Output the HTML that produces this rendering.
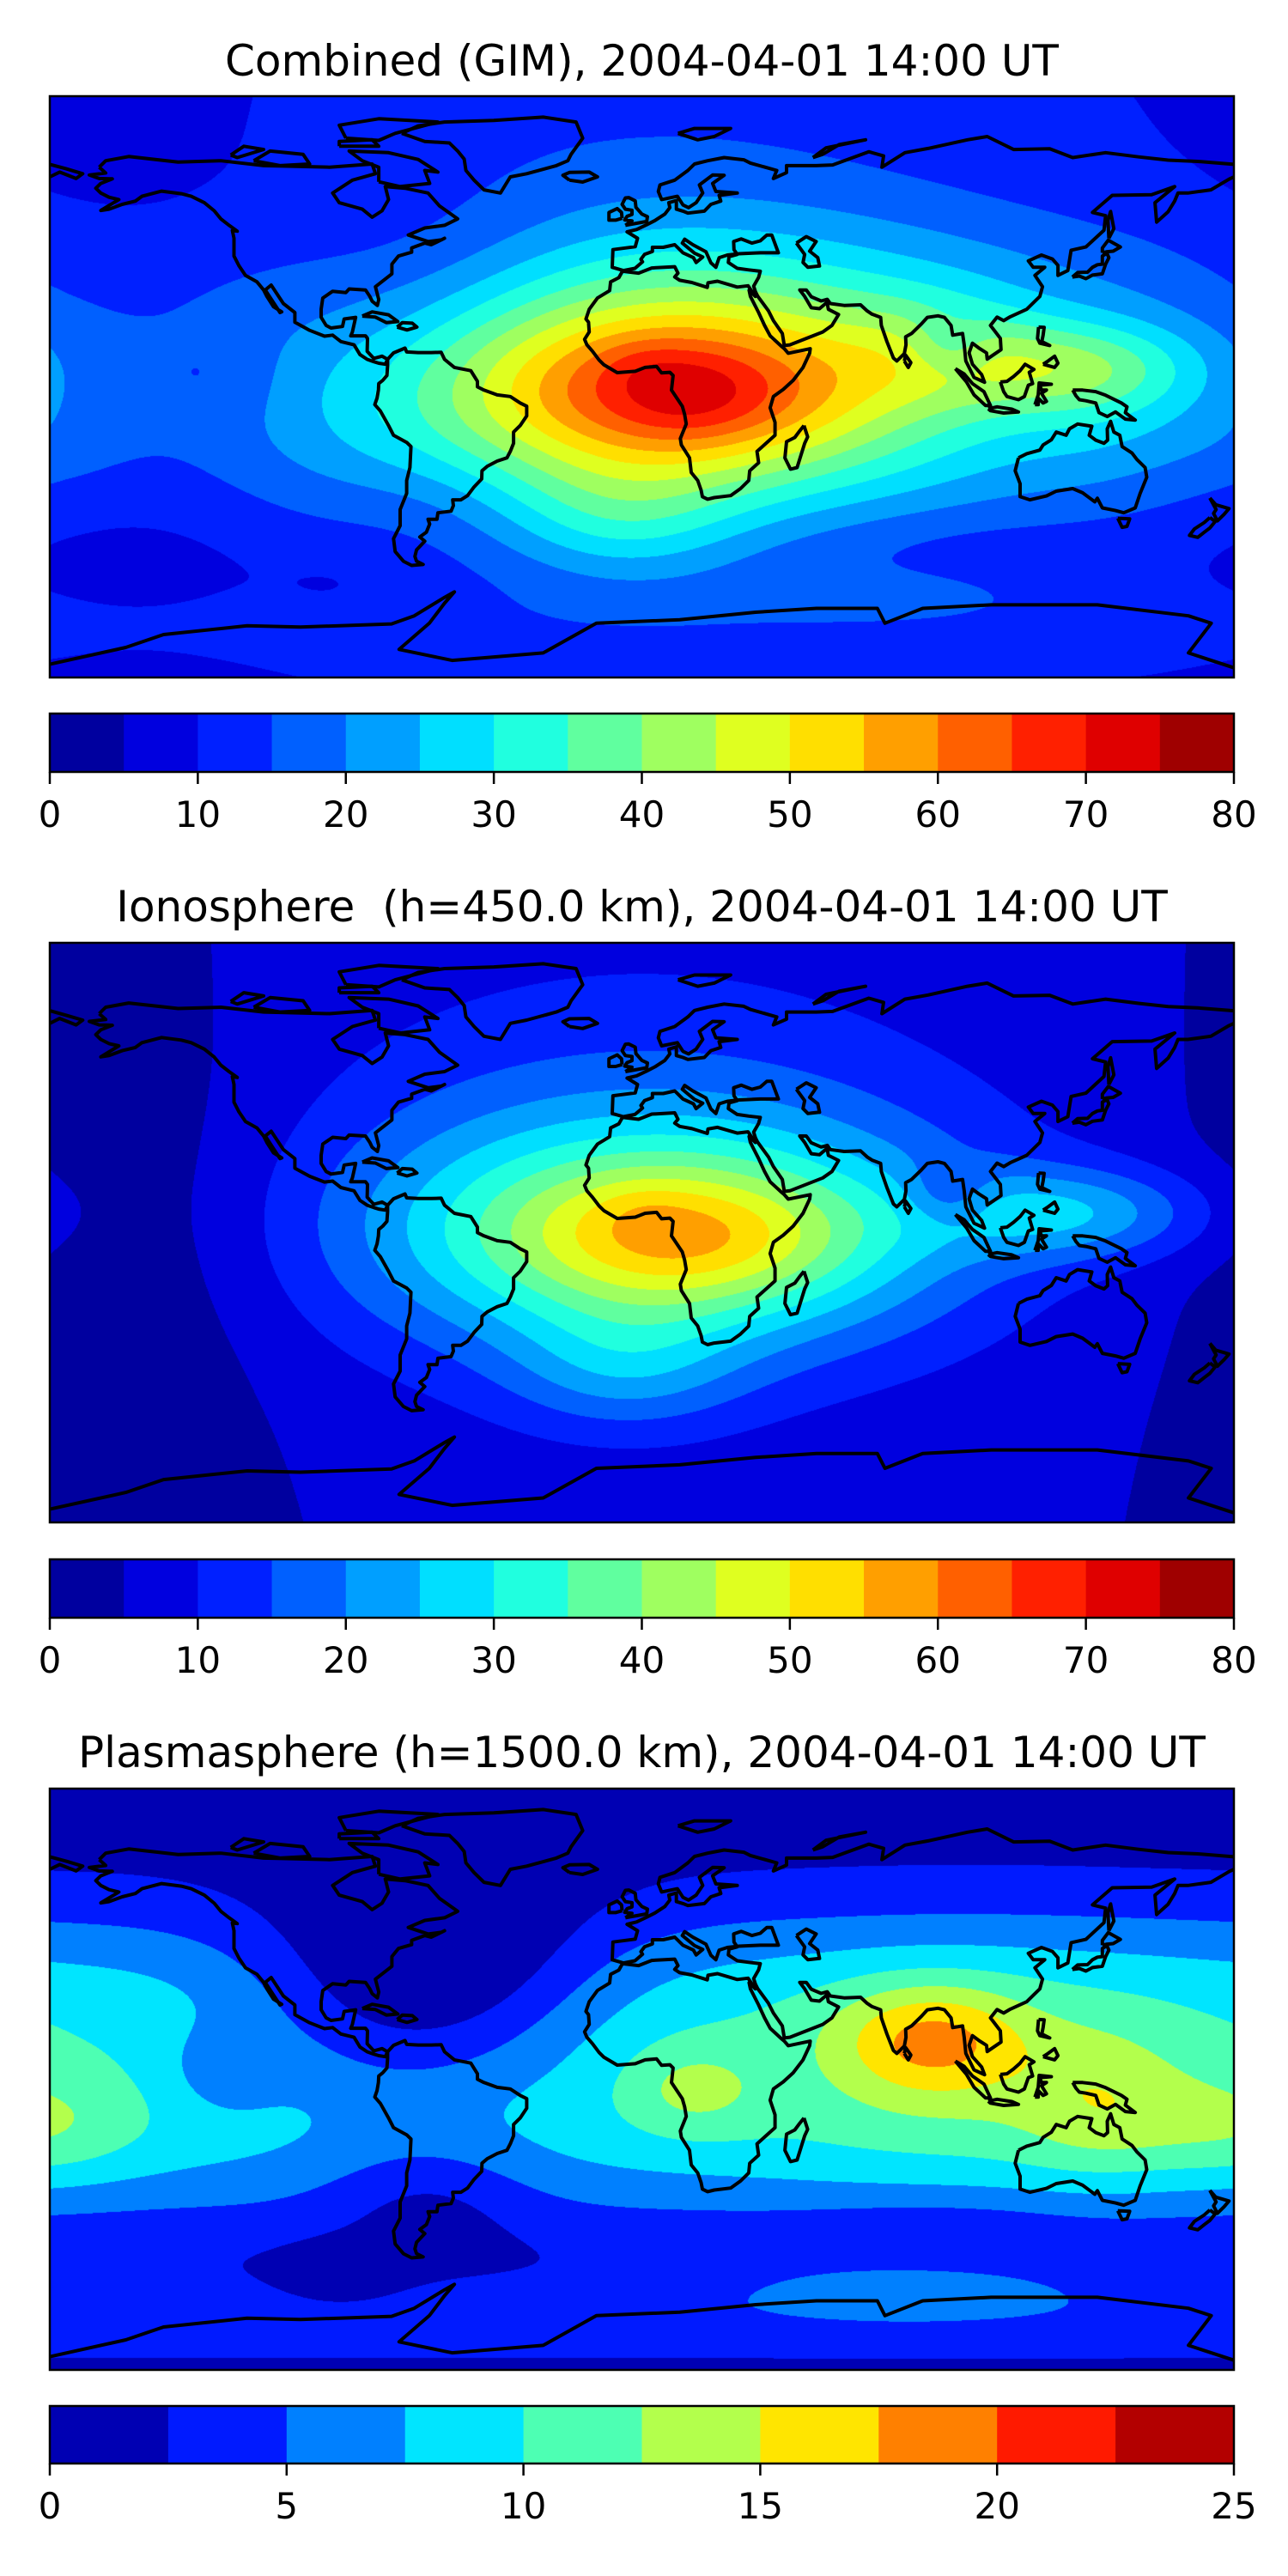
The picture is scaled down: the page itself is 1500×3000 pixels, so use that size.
<!DOCTYPE html>
<html><head><meta charset="utf-8">
<style>
html,body{margin:0;padding:0;background:#fff;}
#root{position:relative;width:1500px;height:3000px;overflow:hidden;background:#fff;}
canvas{position:absolute;}
svg{position:absolute;left:0;top:0;}
text{font-family:"DejaVu Sans","Liberation Sans",sans-serif;fill:#000;white-space:pre;}
</style></head>
<body>
<div id="root">
<canvas id="c1" width="1379" height="677" style="left:58px;top:112px"></canvas>
<canvas id="c2" width="1379" height="675" style="left:58px;top:1098px"></canvas>
<canvas id="c3" width="1379" height="677" style="left:58px;top:2083px"></canvas>
<svg id="ov" width="1500" height="3000"></svg>
</div>
<script>
// ---- data ----
const ionoLevels = [0,5,10,15,20,25,30,35,40,45,50,55,60,65,70,75,80];
const ionoTicks = [0,10,20,30,40,50,60,70,80];
const plasmaLevels = [0,2.5,5,7.5,10,12.5,15,17.5,20,22.5,25];
const plasmaTicks = [0,5,10,15,20,25];
// blobs: [lon, lat, amplitude, sigmaLon, sigmaLat]
const ionoBase = 5;
const ionoBlobs = [
  [0, 20, 10, 80, 50],
  [5, 0, 30, 60, 25],
  [15, -2, 14, 35, 14],
  [0, 8, 2, 10, 6],
  [130, 6, 16, 30, 10],
  [93, 12, -8, 9, 7],
  [-5, -42, 10, 25, 14],
  [-150, 0, -4.5, 32, 55]
];
const combinedOffset = 3;
const plasmaBase = 1.5;
const plasmaBandAmp = 8, plasmaBandLat = 3, plasmaBandSigmaN = 38, plasmaBandSigmaS = 36;
const plasmaBlobs = [
  [88, 12, 7, 20, 12],
  [15, -3, 3.5, 15, 10],
  [140, -8, 3.5, 18, 16],
  [100, 0, 2.5, 50, 30],
  [180, -15, 3, 20, 12],
  [-75, 20, -4, 35, 25],
  [-60, 35, -5, 35, 20],
  [-65, -35, -3, 22, 13],
  [-128, 3, -2.5, 12, 10],
  [90, -47, -1.5, 30, 8],
  [-92, -62, -2, 14, 7],
  [80, -64, 3, 40, 7]
];
const coast = {
 northAmerica:[[-165,68],[-163,70],[-156,71.3],[-141,69.6],[-128,70],[-115,68.5],[-95,68],[-82,69],[-81,66],[-88,64],[-94,60],[-92,57],[-85,55],[-82,52.5],[-79,54.5],[-77,58],[-78,62],[-72,61.5],[-65,60],[-61.5,56],[-56,52],[-60,50],[-66,49.2],[-71,47],[-65,45],[-61,45.5],[-60,46],[-64,44],[-66,44.5],[-70,43],[-70,41.7],[-74,40.5],[-76,38],[-76,35],[-81,31],[-80,27],[-80.4,25.2],[-82,26.5],[-82.7,28],[-84,30],[-89,30.3],[-90,29.2],[-94,29.6],[-97,27.5],[-97.5,24],[-97.5,21.5],[-96,19],[-94.5,18.2],[-91,18.7],[-90.5,21],[-87,21.5],[-88,17],[-88.5,15.8],[-84,15.8],[-83.4,15],[-83.5,11],[-81.5,8.8],[-79,9.5],[-77.3,8.5],[-78,7],[-80,7.3],[-81.5,7.8],[-83.5,8.5],[-85.7,10],[-87.5,13],[-91.5,14],[-94,16],[-96.5,15.7],[-101,17.5],[-105.5,20],[-105.5,23],[-109,25.8],[-112.7,31.5],[-114.5,30],[-110,23],[-109.5,23.2],[-112,24.8],[-114,28],[-115,30],[-117,32.5],[-120.5,34.5],[-122.5,37.5],[-124,40.5],[-124,46],[-124.5,48.4],[-123,48.2],[-125.5,50],[-128,52],[-130,54.5],[-133,57],[-137,59],[-140,59.8],[-146,60.6],[-152,59],[-154,57.5],[-158,56.5],[-162,55],[-164.5,54.6],[-159,58],[-162,58.7],[-164.5,60],[-166,61.5],[-164.5,63],[-161,64.4],[-165,64.5],[-168,65.6],[-163,66.2],[-165,68]],
 southAmerica:[[-77.3,8.5],[-75.5,10.5],[-72,12],[-71.5,10.8],[-68,10.6],[-64,10.6],[-61,10.7],[-60,8.5],[-57,6],[-52,5],[-50,1.7],[-50,0],[-48,-1],[-44,-2.5],[-40,-3],[-37,-5],[-35,-6],[-35,-9],[-37,-12],[-39,-14],[-39,-17.5],[-40,-20],[-41,-22],[-44,-23],[-47,-24.6],[-48.6,-26],[-48.7,-28.5],[-51,-31],[-53,-33.7],[-55,-35],[-57.5,-35],[-57.3,-36.8],[-58,-38.5],[-62,-39],[-62.3,-41],[-65,-41],[-64.5,-42.5],[-65.5,-45],[-67.5,-46.5],[-66,-47.8],[-68.5,-50.5],[-69,-52.5],[-68.5,-54],[-66.5,-55],[-70,-55.3],[-72.5,-54],[-75,-51],[-75.5,-47],[-73.5,-43],[-73.5,-38],[-71.5,-33],[-71.5,-29],[-70.5,-25],[-70.2,-18.5],[-71.5,-17.2],[-75.5,-15],[-77,-12],[-79.5,-7.5],[-81.2,-5.5],[-80.5,-3.5],[-80.1,-1],[-80,1],[-78.8,2],[-77.5,3.5],[-77.3,6.5],[-77.3,8.5]],
 africa:[[-5.9,35.8],[-1,35.2],[3,36.8],[10,37.2],[11,35.2],[10,34],[11.5,33],[15.2,32.3],[19.9,30.8],[20.1,32.2],[23,32.7],[29,30.9],[32.3,31.3],[34.5,28],[32.6,29.9],[33,28],[35.5,23],[37.3,19],[39,15.8],[42.5,12.5],[43.3,11.8],[44.5,10.4],[51.2,11.8],[51,10.4],[49,6],[46,2],[43,-0.8],[40,-3],[39,-6.5],[40.5,-11],[40.5,-15],[35,-20],[35.5,-23.5],[32.8,-26],[32.5,-29],[30,-31.5],[27,-33.7],[22,-34.3],[20,-34.8],[18.4,-34],[18,-32],[17,-29],[15,-26.5],[14.5,-22],[12,-18],[11.7,-16],[13.5,-11.5],[13,-8.5],[12.3,-6],[9,-1],[9.5,3.5],[8.5,4.5],[6,4.3],[4.5,6.3],[1,6],[-2,4.8],[-7.5,4.4],[-11.5,6.8],[-13,8.3],[-15,11],[-16.7,13],[-17.4,14.7],[-16,17],[-16.2,20],[-17,21],[-16,24],[-13.5,27.5],[-9.8,29.8],[-9.5,32.5],[-7,33.8],[-5.9,35.8]],
 madagascar:[[49.3,-12],[50.4,-15.5],[49.5,-17.5],[47.2,-25],[45.2,-25.5],[43.5,-22],[44,-17],[46.5,-15.7],[48,-13.6],[49.3,-12]],
 eurasia:[[-5.6,36],[-9,37],[-8.8,42.5],[-2,43.4],[-1.3,46],[-4.5,48],[-1.6,48.7],[1.5,50.2],[4,51.5],[7,53.5],[8.5,55.5],[8.2,57],[10.5,57.7],[10.5,55],[12.5,54.4],[14,53.8],[19,54.4],[21,56.5],[24,57.5],[23.5,59.3],[29,60],[22.5,60.5],[21.5,63],[25,65.5],[21.5,65.6],[17.5,62.5],[18.5,60],[16.5,57],[14.2,55.5],[12.5,56.3],[10.8,59],[6,58],[5,60.5],[5.5,62.5],[10,64],[14,67],[16,69],[20,70],[25,71],[31,70.3],[33,69.3],[41,67],[40,64.5],[44,66.3],[44,68.5],[53,68.5],[58,68.7],[69,72.8],[73.5,71.5],[73,68],[80,72.5],[87,73.8],[99,76.5],[105,77.5],[113,73.5],[124,73.7],[131,71],[141,72.5],[151,71.2],[160,70.2],[169,69.8],[180,68.9]],
 eurasiaSouth:[[180,65],[178.5,64.3],[173,61],[166,60],[163,60],[162,57.5],[160,54.2],[156.5,51],[156,57],[162,62],[155,59.5],[143,59.3],[137,54],[141,53],[140.5,48.5],[135,43.3],[130.5,42.3],[129.5,36],[126.5,34.5],[126.5,37.6],[124.8,39.6],[121.5,40.8],[117.5,39],[119,37],[122.5,37],[119.5,34.5],[121.8,31],[121,28],[117,24],[112,21.7],[110,20.5],[108,21.6],[106,19],[109,15],[109.2,11.5],[105,8.6],[104.8,10.5],[102.5,12],[100.5,13.5],[99.5,10.5],[100.5,7],[103.3,3.8],[104.2,1.4],[101,2.9],[98.5,8],[98,13],[97.5,16.5],[94.5,16],[94,19],[92,21.5],[90,22],[86.8,21.5],[85,19.5],[82,16.5],[80.2,15.5],[80.3,13],[79.8,10.3],[77.5,8],[76.5,8.9],[74.5,14],[72.8,19],[72.6,21.5],[70,22.5],[68.5,23.5],[66.5,25.4],[61.5,25.2],[57.3,25.8],[56.4,27.1],[54.5,26.6],[51.5,27.9],[50,30],[48,30],[49.5,28],[51.5,24.5],[54,24.2],[56.3,26.2],[56.7,24],[59.8,22.4],[57.8,19],[55,17],[52,15.8],[45,13],[43.3,12.8],[42.7,16.5],[40,20.5],[38.5,23.5],[35.2,28.1],[34.5,29.5],[34,31.2],[35.5,33.9],[36,35.8],[32.5,36.2],[29,36.7],[26.3,38.5],[26.5,40.3],[29,41],[28,42.5],[27.9,45],[30.2,45.8],[33.5,44.5],[36,45.2],[38,47],[39.5,47],[41.5,41.5],[36,41.5],[29.5,41.2],[26,40.8],[23.5,40],[22.5,37],[21,38.4],[19.5,41.8],[15.5,44],[13,45.7],[12.3,44.5],[16,41.4],[18.5,40.2],[16.5,38.5],[15.7,40],[12.5,41.5],[10,44],[6.5,43.2],[3.2,43.2],[3.2,41.9],[0.8,41],[-0.3,39.5],[0.2,38.7],[-2.1,36.7],[-5.6,36]],
 chukotka:[[-180,65],[-177,66.5],[-172,64.5],[-170,66],[-175,67.5],[-180,68.9]],
 caspian:[[47,44.5],[50,46.5],[53,45],[51,42],[53.5,40],[54,37.4],[50.5,37],[49,38.5],[49.5,41],[47,44.5]],
 greenland:[[-73,78.5],[-68,80.8],[-60,82],[-45,82.5],[-30,83.5],[-20,82],[-18,77],[-21.5,72],[-22.5,70],[-26,68.5],[-35,66],[-40,65],[-43,60],[-48,61],[-51,64],[-53.5,67],[-54,70.5],[-56,73],[-58.5,75.5],[-66,76],[-73,78.5]],
 australia:[[114.5,-22],[113.5,-26],[115,-30],[115,-34],[118,-35],[123,-33.8],[126,-32.3],[131,-31.5],[134,-32.8],[137.7,-35.6],[138.5,-34.5],[140,-37.5],[144,-38.3],[146.5,-39],[150,-37.5],[151.5,-33],[153.5,-28],[153,-25],[150.5,-22.5],[149,-20.5],[146,-18.5],[145.3,-15],[143.5,-14],[142.5,-10.7],[141.5,-13],[141.6,-16.5],[140.5,-17.5],[138,-16.5],[136,-15],[136.8,-12.2],[132.5,-11.5],[130,-13],[129,-15],[126,-14],[124.5,-16.4],[122,-18],[121,-19.6],[117,-20.7],[114.5,-22]],
 antarctica:[[-180,-85.9],[-156.9,-80.7],[-145.4,-76.7],[-120,-74],[-103.8,-74.4],[-76.1,-73.4],[-69.2,-70.9],[-60,-65.2],[-57,-63.5],[-60,-67],[-64.6,-73.2],[-73.8,-81.3],[-57.7,-84.7],[-30,-82.4],[-13.8,-73.2],[11.5,-72.1],[34.6,-69.8],[53.1,-68.6],[71.6,-68.6],[73.9,-73.2],[85.4,-68.6],[106.2,-67.5],[138.5,-67.5],[166.2,-70.9],[173.1,-73.2],[166.2,-82.4],[180,-87]],
 uk:[[-5,50],[1.5,51.2],[1.7,52.7],[0,53.5],[-1.8,55.6],[-2,57.6],[-4,58.6],[-5,58.5],[-6,56.5],[-5,55],[-3,54.7],[-3,53.4],[-4.5,52.8],[-5.2,51.7],[-3,51.4],[-5,50]],
 ireland:[[-6,52.2],[-6.2,54],[-7.5,55.2],[-10,54],[-10,51.6],[-8,51.6],[-6,52.2]],
 iceland:[[-22,64],[-24,65.5],[-22,66.4],[-16,66.5],[-13.5,65],[-18,63.4],[-22,64]],
 honshu:[[130.9,34],[133,34.3],[135,33.5],[137,34.6],[140,35],[141,38],[142,40],[141.4,41.4],[140,40.5],[140,38],[138.5,37.8],[137,37],[135.5,35.5],[132.5,35.4],[130.9,34]],
 hokkaido:[[140,41.5],[141.2,41.8],[143.3,42],[145.5,43.3],[141.8,45.4],[140,43],[140,41.5]],
 sumatra:[[95.3,5.6],[98,4],[100.5,1],[104,-1.5],[106,-5.8],[104.5,-5.8],[101,-2.5],[98.7,1.5],[95.3,5.6]],
 java:[[105.3,-6.8],[108,-6.2],[112.5,-6.9],[114.5,-7.8],[110,-8.1],[106,-7.4],[105.3,-6.8]],
 borneo:[[109,1.5],[110,-1.5],[111,-3],[114.5,-4],[116.3,-3],[117.5,0.5],[118.8,1],[117.8,4.5],[119.2,5.4],[116.5,7],[115,5],[113,3.2],[111,1.7],[109,1.5]],
 sulawesi:[[119.5,-5.5],[120.5,-2.5],[120.8,1.2],[124.5,0.8],[121,0.5],[121.5,-1],[123,-1],[121.5,-2],[123,-4.5],[122,-5],[120.5,-3.5],[120.5,-5.5],[119.5,-5.5]],
 newGuinea:[[131,-1],[134,-1],[138,-1.5],[141,-2.6],[145.8,-5],[147.5,-6.2],[147,-8],[150,-10.3],[147,-10],[144,-7.8],[141.5,-9.2],[139,-8],[138,-5],[135,-4.3],[133,-4],[132,-2.8],[131,-1]],
 luzon:[[120.6,18.5],[122.3,18.4],[122,16],[121.6,14],[124,12.8],[121,13.5],[120.3,15],[120.6,18.5]],
 mindanao:[[122,7],[125.5,6],[126.5,7.3],[125.5,9.5],[123.5,8],[122,7]],
 nzNorth:[[172.7,-34.4],[174.5,-36.5],[178.5,-37.7],[177,-39.5],[175,-41.5],[173.8,-39.2],[174.6,-38],[172.7,-34.4]],
 nzSouth:[[172.7,-40.5],[174.3,-41.7],[172.7,-43.7],[171,-45],[169,-46.6],[166.5,-46],[168,-44],[171,-42],[172.7,-40.5]],
 cuba:[[-85,21.9],[-82,23.2],[-77,22.3],[-74.2,20.2],[-77.7,19.9],[-81,21.6],[-85,21.9]],
 hispaniola:[[-74.4,18.5],[-72.8,19.9],[-69.8,19.7],[-68.4,18.5],[-71.4,17.6],[-74.4,18.5]],
 sriLanka:[[79.8,8],[80.2,9.8],[81.8,7.5],[81,6],[79.8,8]],
 svalbard:[[11,78.5],[16,80],[27,80],[22,77.5],[17,76.5],[11,78.5]],
 novayaZemlya:[[52,71],[56,74],[68,76.5],[60,75],[55,72],[52,71]],
 baffin:[[-80,63.5],[-73.5,62],[-64.5,63],[-66,67],[-62,66.5],[-68,70.4],[-77,72.5],[-89,73],[-85,70],[-80,68],[-80,63.5]],
 victoria:[[-118,70],[-113,73],[-103,72],[-101,69],[-110,68.5],[-118,70]],
 ellesmere:[[-90,77],[-80,76.3],[-75,78.5],[-62,82],[-80,83],[-92,81],[-90,77]],
 banks:[[-125,71.8],[-121,74.5],[-115,73.5],[-123,71],[-125,71.8]],
 devon:[[-92,74.5],[-80,74.5],[-82,76.5],[-92,76],[-92,74.5]],
 sakhalin:[[142,46],[143.5,49],[142.5,54.3],[141.7,51.5],[142,46]],
 tasmania:[[144.7,-40.7],[148.3,-40.9],[147.5,-43.2],[146,-43.5],[144.7,-40.7]]
};

// ---- helpers ----
function jet(t){
  const c=v=>Math.max(0,Math.min(1,v));
  const r=c(1.5-Math.abs(4*t-3)), g=c(1.5-Math.abs(4*t-2)), b=c(1.5-Math.abs(4*t-1));
  return [Math.round(r*255),Math.round(g*255),Math.round(b*255)];
}
function levelColors(levels){
  const n=levels.length-1, out=[];
  for(let i=0;i<n;i++) out.push(jet((i+0.5)/n));
  return out;
}
function blobSum(blobs,lon,lat){
  let s=0;
  for(const b of blobs){
    let d=lon-b[0]; d=((d+540)%360)-180;
    const e=(d/b[3])**2+((lat-b[1])/b[4])**2;
    s+=b[2]*Math.exp(-0.5*e);
  }
  return s;
}
function iono(lon,lat){ return ionoBase+blobSum(ionoBlobs,lon,lat); }
function plasma(lon,lat){
  const dl=lat-plasmaBandLat, sg=dl>=0?plasmaBandSigmaN:plasmaBandSigmaS;
  return plasmaBase+plasmaBandAmp*Math.exp(-0.5*Math.pow(Math.abs(dl)/sg,3))
    +2.5*Math.exp(-0.5*((lat+74)/9)**2)+blobSum(plasmaBlobs,lon,lat);
}
function combined(lon,lat){ return combinedOffset+iono(lon,lat)+plasma(lon,lat); }

function drawField(id,fn,levels){
  const cv=document.getElementById(id), ctx=cv.getContext('2d');
  const W=cv.width,H=cv.height, img=ctx.createImageData(W,H), cols=levelColors(levels);
  const n=cols.length, lo=levels[0], step=levels[1]-levels[0];
  for(let y=0;y<H;y++){
    const lat=90-(y+0.5)/H*180;
    for(let x=0;x<W;x++){
      const lon=-180+(x+0.5)/W*360;
      let k=Math.floor((fn(lon,lat)-lo)/step); if(k<0)k=0; if(k>n-1)k=n-1;
      const c=cols[k], p=(y*W+x)*4;
      img.data[p]=c[0];img.data[p+1]=c[1];img.data[p+2]=c[2];img.data[p+3]=255;
    }
  }
  ctx.putImageData(img,0,0);
}
drawField('c1',combined,ionoLevels);
drawField('c2',iono,ionoLevels);
drawField('c3',plasma,plasmaLevels);

// ---- overlay ----
const NS='http://www.w3.org/2000/svg', ov=document.getElementById('ov');
function el(tag,attrs,parent){const e=document.createElementNS(NS,tag);for(const k in attrs)e.setAttribute(k,attrs[k]);(parent||ov).appendChild(e);return e;}
const MX=58, MW=1379;
const panels=[
 {title:'Combined (GIM), 2004-04-01 14:00 UT', name:'combined', ty:88, my:112, mh:677, cy:831, ch:68, levels:ionoLevels, ticks:ionoTicks},
 {title:'Ionosphere  (h=450.0 km), 2004-04-01 14:00 UT', name:'ionosphere', ty:1073, my:1098, mh:675, cy:1816, ch:68, levels:ionoLevels, ticks:ionoTicks},
 {title:'Plasmasphere (h=1500.0 km), 2004-04-01 14:00 UT', name:'plasmasphere', ty:2058, my:2083, mh:677, cy:2802, ch:67, levels:plasmaLevels, ticks:plasmaTicks}
];
panels.forEach(P=>{
  const g=el('g',{});
  
  
  const t=el('text',{x:MX+MW/2,y:P.ty,'text-anchor':'middle','font-size':'50'},g);
  t.textContent=P.title;
  
  
  const cg=el('g',{fill:'none',stroke:'#000','stroke-width':'4','stroke-linejoin':'round'},g);
  
  
  const px=lon=>MX+(lon+180)/360*MW, py=lat=>P.my+(90-lat)/180*P.mh;
  for(const key in coast){
    const pts=coast[key].map(p=>px(p[0]).toFixed(1)+','+py(p[1]).toFixed(1)).join(' ');
    const pl=el('polyline',{points:pts},cg);
    
    
  }
  const fr=el('rect',{x:MX,y:P.my,width:MW,height:P.mh,fill:'none',stroke:'#000','stroke-width':'2.5'},g);
  
  
  const cols=levelColors(P.levels), L0=P.levels[0], L1=P.levels[P.levels.length-1];
  const cx=v=>MX+(v-L0)/(L1-L0)*MW;
  const cb=el('g',{},g);
  
  
  for(let i=0;i<cols.length;i++){
    const x0=cx(P.levels[i]), x1=cx(P.levels[i+1]);
    const r=el('rect',{x:x0,y:P.cy,width:x1-x0+0.6,height:P.ch,fill:'rgb('+cols[i].join(',')+')'},cb);
    
    
  }
  el('rect',{x:MX,y:P.cy,width:MW,height:P.ch,fill:'none',stroke:'#000','stroke-width':'2.5'},cb);
  P.ticks.forEach(v=>{
    const x=cx(v);
    const tk=el('line',{x1:x,x2:x,y1:P.cy+P.ch,y2:P.cy+P.ch+14,stroke:'#000','stroke-width':'2.5'},cb);
    
    
    const tl=el('text',{x:x,y:P.cy+P.ch+64,'text-anchor':'middle','font-size':'42'},cb);
    tl.textContent=String(v);
    
    
  });
});
</script>
</body></html>
